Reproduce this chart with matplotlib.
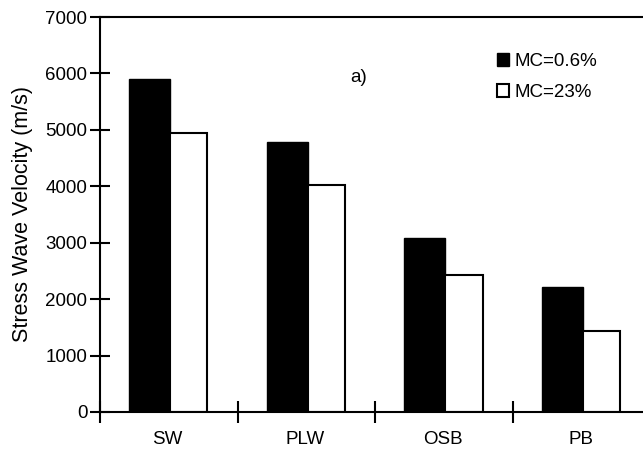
import numpy as np
import matplotlib.pyplot as plt

plt.rcParams['font.family'] = ['Liberation Sans', 'DejaVu Sans']

# stress wave velocity by panel type, two moisture contents
panels = ["SW", "PLW", "OSB", "PB"]
mc_dry = [5900, 4790, 3080, 2220]
mc_wet = [4940, 4030, 2430, 1440]
labels = ["MC=0.6%", "MC=23%"]

fs = 13.5
fig = plt.figure(figsize=(6.43, 4.5), dpi=100)
ax = fig.add_axes([100/643, 1-412/450, 1-100/643, 395/450])

x = np.arange(len(panels))
ax.bar(x + 0.21, mc_dry, width=0.298, align='edge', color='black',
       edgecolor='black', linewidth=1.0, label=labels[0])
ax.bar(x + 0.508, mc_wet, width=0.27, align='edge', color='white',
       edgecolor='black', linewidth=1.5, label=labels[1])

ax.set_ylim(0, 7000)
ax.set_xlim(0, 543/137.7)
ax.set_yticks(np.arange(0, 7001, 1000))
ax.set_xticks(x)
ax.set_xticklabels([])
ax.set_xticks(x + 0.49, minor=True)
ax.set_xticklabels(panels, minor=True)
ax.tick_params(axis='x', which='minor', length=0, pad=14, labelsize=fs)
ax.tick_params(axis='x', which='major', direction='inout', length=16, width=1.5)
ax.tick_params(axis='y', direction='inout', length=14, width=1.5, labelsize=fs, pad=2)

for s in ['left', 'bottom', 'top']:
    ax.spines[s].set_linewidth(1.5)
ax.spines['right'].set_visible(False)

ax.set_ylabel("Stress Wave Velocity (m/s)", fontsize=15.5, labelpad=9)

fig.text(359/643, 1-78/450, "a)", fontsize=fs, ha='center', va='center')

ax.legend(loc='upper left', bbox_to_anchor=(497/643, 1-53/450),
          bbox_transform=fig.transFigure, frameon=False, fontsize=fs,
          handlelength=0.65, handleheight=0.65, handletextpad=0.3,
          labelspacing=0.75, borderpad=0, borderaxespad=0)

fig.savefig("out.png", dpi=100)
